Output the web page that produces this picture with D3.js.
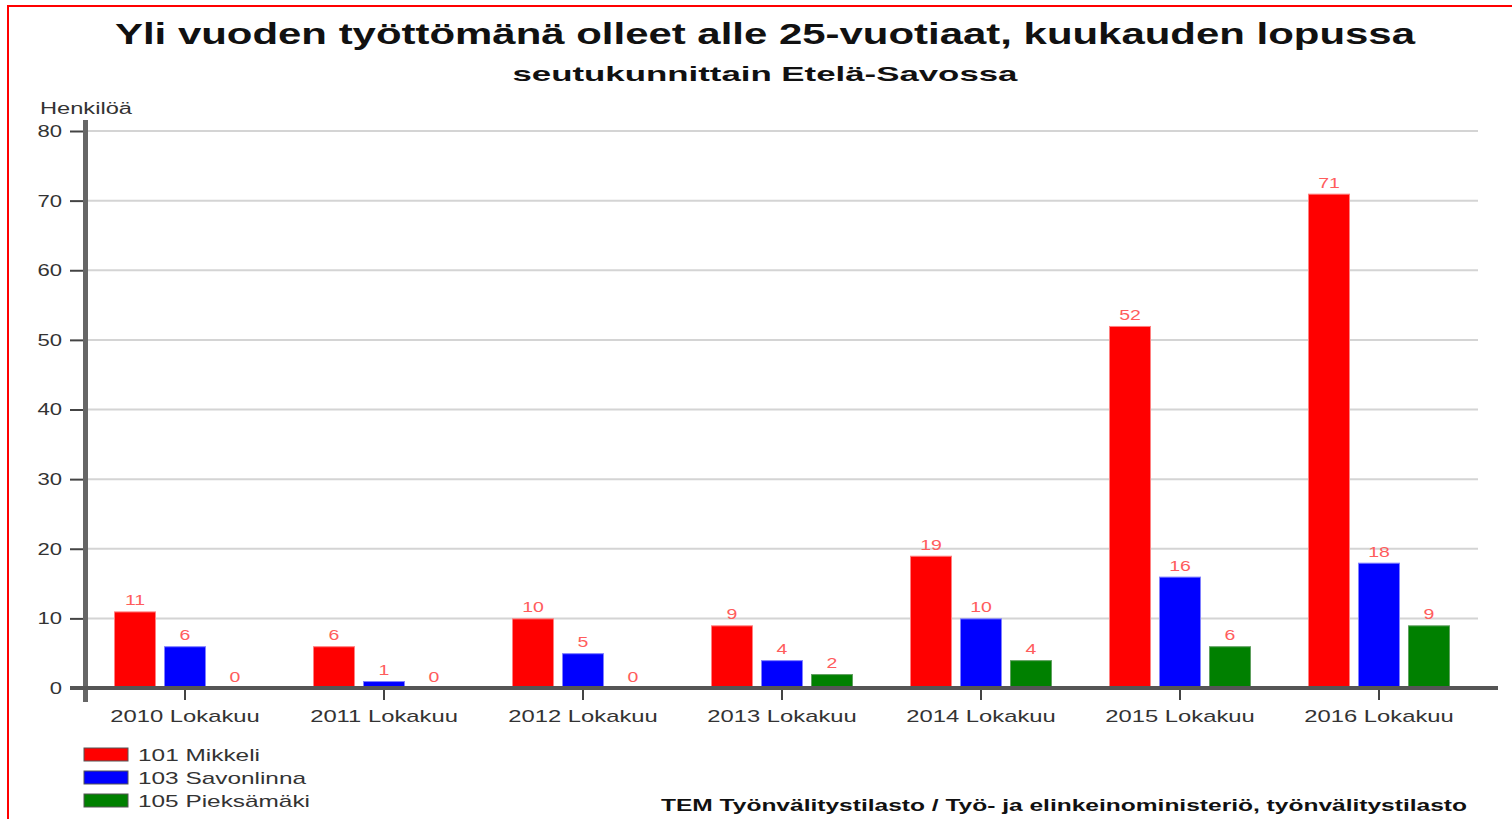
<!DOCTYPE html>
<html><head><meta charset="utf-8">
<script src="https://cdn.jsdelivr.net/npm/d3@7"></script>
<style>body{margin:0;background:#fff}svg{display:block}text{font-family:"Liberation Sans",Arial,sans-serif}</style>
</head><body><svg id="c" width="1512" height="819"></svg>
<script>
const categories = ["2010 Lokakuu","2011 Lokakuu","2012 Lokakuu","2013 Lokakuu","2014 Lokakuu","2015 Lokakuu","2016 Lokakuu"];
const seriesNames = ["101 Mikkeli","103 Savonlinna","105 Pieksämäki"];
const mikkeli = [11,6,10,9,19,52,71];
const savonlinna = [6,1,5,4,10,16,18];
const pieksamaki = [0,0,0,2,4,6,9];
const yTicks = [0,10,20,30,40,50,60,70,80];
const colors = ["#ff0000","#0000ff","#008000"];
const edgeColors = ["#ff8080","#8080ff","#60a060"];
const title = "Yli vuoden työttömänä olleet alle 25-vuotiaat, kuukauden lopussa";
const subtitle = "seutukunnittain Etelä-Savossa";
const yLabel = "Henkilöä";
const source = "TEM Työnvälitystilasto / Työ- ja elinkeinoministeriö, työnvälitystilasto";

const values = [mikkeli, savonlinna, pieksamaki];
const svg = d3.select("#c");

// border
svg.append("rect").attr("x",8).attr("y",6).attr("width",1520).attr("height",830)
  .attr("fill","none").attr("stroke","#ff0000").attr("stroke-width",2);

// titles
svg.append("text").attr("x",765).attr("y",44).attr("text-anchor","middle")
  .attr("font-size",30).attr("font-weight","bold").attr("fill","#111")
  .attr("textLength",1300).attr("lengthAdjust","spacingAndGlyphs").text(title);
svg.append("text").attr("x",765).attr("y",81).attr("text-anchor","middle")
  .attr("font-size",21).attr("font-weight","bold").attr("fill","#111")
  .attr("textLength",505).attr("lengthAdjust","spacingAndGlyphs").text(subtitle);
svg.append("text").attr("x",40).attr("y",114)
  .attr("font-size",16).attr("fill","#333")
  .attr("textLength",92).attr("lengthAdjust","spacingAndGlyphs").text(yLabel);

const y = d3.scaleLinear().domain([0,80]).range([688,131]);
const x0 = d3.scaleBand().domain(categories).range([85.5,1478.5]).padding(0);
const x1 = d3.scaleBand().domain(seriesNames).range([28.5,170.5]).paddingInner(0.16).paddingOuter(0);

// gridlines
svg.append("g").selectAll("line").data(yTicks.filter(d=>d>0)).join("line")
  .attr("x1",88).attr("x2",1478).attr("y1",d=>y(d)).attr("y2",d=>y(d))
  .attr("stroke","#d4d4d4").attr("stroke-width",2);

// y axis
const yAxis = svg.append("g").attr("transform","translate(85,0)")
  .call(d3.axisLeft(y).tickValues(yTicks).tickSize(15).tickPadding(8));
yAxis.select(".domain").remove();
yAxis.selectAll(".tick line").attr("stroke","#444").attr("stroke-width",2);
yAxis.selectAll(".tick text").attr("font-size",17).attr("fill","#333")
  .attr("font-family","Liberation Sans, Arial, sans-serif")
  .attr("transform","translate(-23,0) scale(1.3,1) translate(23,0)");
svg.append("line").attr("x1",85.5).attr("x2",85.5).attr("y1",120).attr("y2",702)
  .attr("stroke","#666").attr("stroke-width",5);

// bars
const groups = svg.append("g").selectAll("g").data(categories).join("g")
  .attr("transform",d=>`translate(${x0(d)},0)`);
const cells = (d,i)=>seriesNames.map((s,j)=>({s,j,v:values[j][i]}));
groups.selectAll("rect").data(cells).join("rect")
  .attr("x",d=>x1(d.s)+0.5).attr("width",x1.bandwidth()-1)
  .attr("y",d=>y(d.v)+0.5).attr("height",d=>Math.max(0,y(0)-y(d.v)-0.5))
  .attr("fill",d=>colors[d.j]).attr("stroke",d=>edgeColors[d.j]).attr("stroke-width",1);
groups.selectAll("text").data(cells).join("text")
  .attr("transform",d=>`translate(${x1(d.s)+x1.bandwidth()/2},${y(d.v)-6}) scale(1.3,1)`)
  .attr("text-anchor","middle").attr("font-size",15)
  .attr("fill","#ff5c5c").text(d=>d.v);

// x axis
const xAxis = svg.append("g").attr("transform","translate(0,688)")
  .call(d3.axisBottom(x0).tickSize(12).tickPadding(10));
xAxis.select(".domain").remove();
xAxis.selectAll(".tick line").attr("stroke","#444").attr("stroke-width",2);
xAxis.selectAll(".tick text").attr("font-size",17).attr("fill","#333")
  .attr("font-family","Liberation Sans, Arial, sans-serif")
  .attr("transform","scale(1.4,1)");
svg.append("line").attr("x1",70).attr("x2",1498).attr("y1",688).attr("y2",688)
  .attr("stroke","#555").attr("stroke-width",4);

// legend
const lg = svg.append("g").selectAll("g").data(seriesNames).join("g")
  .attr("transform",(d,i)=>`translate(84,${748+i*23})`);
lg.append("rect").attr("width",44).attr("height",13)
  .attr("fill",(d,i)=>colors[i]).attr("stroke","#555").attr("stroke-width",1);
const lw=[122,168,172];
lg.append("text").attr("x",54).attr("y",13).attr("font-size",17).attr("fill","#333")
  .attr("textLength",(d,i)=>lw[i]).attr("lengthAdjust","spacingAndGlyphs").text(d=>d);

// source
svg.append("text").attr("x",1467).attr("y",811).attr("text-anchor","end")
  .attr("font-size",16).attr("font-weight","bold").attr("fill","#111")
  .attr("textLength",806).attr("lengthAdjust","spacingAndGlyphs").text(source);
</script></body></html>
